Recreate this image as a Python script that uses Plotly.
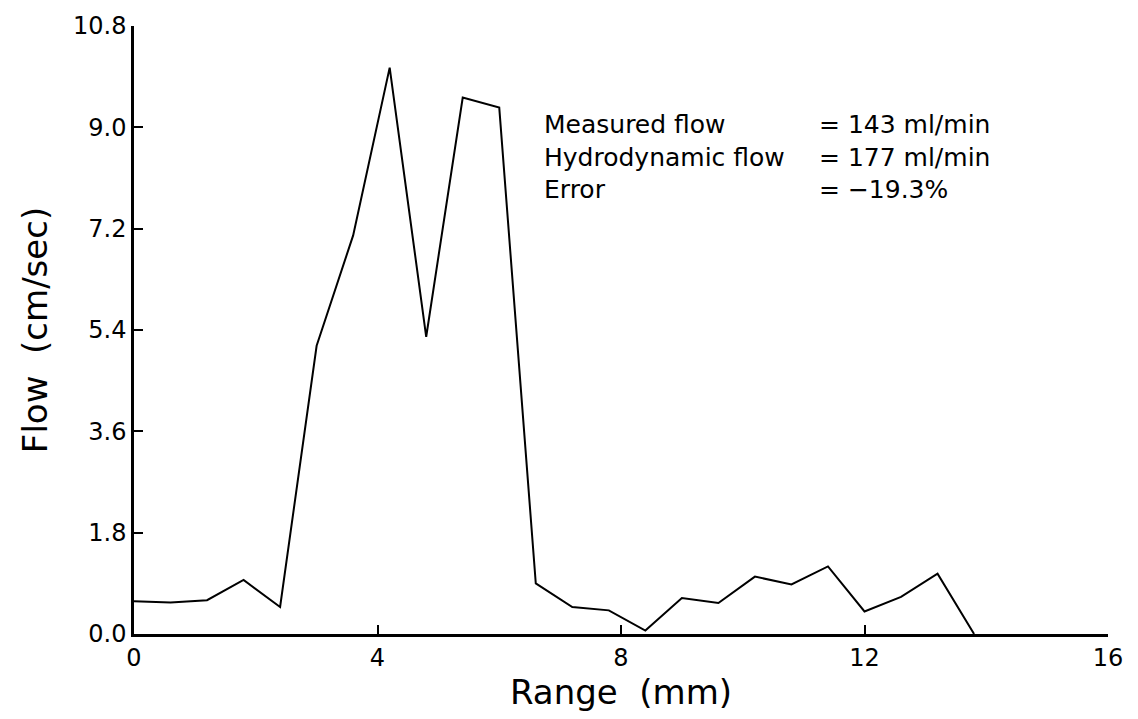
import plotly.graph_objects as go

# Velocity profile across the vessel
range_mm = [0.0, 0.6, 1.2, 1.8, 2.4, 3.0, 3.6, 4.2, 4.8, 5.4, 6.0, 6.6,
            7.2, 7.8, 8.4, 9.0, 9.6, 10.2, 10.8, 11.4, 12.0, 12.6, 13.2, 13.8]
flow_cm_s = [0.58, 0.56, 0.60, 0.96, 0.48, 5.12, 7.08, 10.06, 5.28, 9.53, 9.35, 0.90,
             0.48, 0.42, 0.06, 0.64, 0.55, 1.02, 0.88, 1.20, 0.40, 0.66, 1.07, 0.0]

x_ticks = [0, 4, 8, 12, 16]
y_ticks = [0.0, 1.8, 3.6, 5.4, 7.2, 9.0, 10.8]

summary_labels = ["Measured flow", "Hydrodynamic flow", "Error"]
summary_values = ["= 143 ml/min", "= 177 ml/min", "= \u221219.3%"]

font_family = "DejaVu Sans"

fig = go.Figure()
fig.add_trace(go.Scatter(
    x=range_mm, y=flow_cm_s, mode="lines",
    line=dict(color="black", width=2),
    showlegend=False, hoverinfo="skip",
))

# Summary block: labels column and values column
fig.add_annotation(x=6.70, y=8.47, xref="x", yref="y",
                   text="<br>".join(summary_labels), align="left",
                   showarrow=False, xanchor="left", yanchor="middle",
                   font=dict(family=font_family, size=25, color="black"))
fig.add_annotation(x=11.22, y=8.47, xref="x", yref="y",
                   text="<br>".join(summary_values), align="left",
                   showarrow=False, xanchor="left", yanchor="middle",
                   font=dict(family=font_family, size=25, color="black"))

fig.update_layout(
    width=1138, height=719,
    margin=dict(l=134, r=30, t=19, b=85),
    paper_bgcolor="white", plot_bgcolor="white",
    font=dict(family=font_family, color="black"),
)
fig.update_xaxes(
    range=[0, 16], tickvals=x_ticks, ticktext=[str(v) for v in x_ticks],
    showline=True, linecolor="black", linewidth=2.5, mirror=False,
    ticks="inside", ticklen=9, tickwidth=1.5, tickcolor="black",
    showgrid=False, zeroline=False,
    tickfont=dict(family=font_family, size=24),
    title=dict(text="Range  (mm)", font=dict(family=font_family, size=34), standoff=3),
)
fig.update_yaxes(
    range=[0, 10.8], tickvals=y_ticks, ticktext=[f"{v:.1f}" for v in y_ticks],
    showline=True, linecolor="black", linewidth=2.5, mirror=False,
    ticks="inside", ticklen=9, tickwidth=1.5, tickcolor="black",
    showgrid=False, zeroline=False,
    tickfont=dict(family=font_family, size=24),
    title=dict(text="Flow  (cm/sec)", font=dict(family=font_family, size=34), standoff=16),
)

fig.write_html("out.html")
